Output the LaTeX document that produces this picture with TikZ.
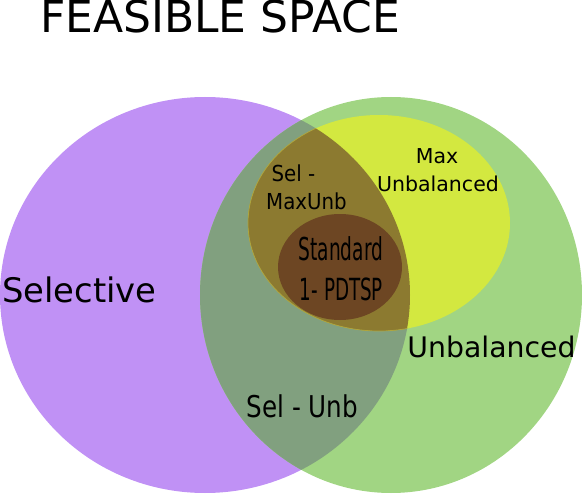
\documentclass[tikz,border=0pt]{standalone}
\usepackage{fontspec}
\setmainfont{DejaVu Sans}
\definecolor{cpurple}{RGB}{192,145,245}
\definecolor{cgreen}{RGB}{161,213,131}
\definecolor{cpg}{RGB}{129,160,127}
\definecolor{cyellow}{RGB}{211,232,64}
\definecolor{colive}{RGB}{140,122,48}
\definecolor{cbrown}{RGB}{109,70,35}
\definecolor{cedge}{RGB}{175,165,62}
\newcommand{\fs}[1]{\fontsize{#1}{#1}\selectfont}
\begin{document}
\begin{tikzpicture}[x=1pt,y=-1pt,
  lbl/.style={inner sep=0pt, outer sep=0pt, anchor=base, text=black}]
\useasboundingbox (0,0) rectangle (582,495);
% base shapes
\fill[cpurple] (205,295) ellipse [x radius=205, y radius=198];
\fill[cgreen] (391,295) ellipse [x radius=191, y radius=198];
\begin{scope}
  \clip (205,295) ellipse [x radius=205, y radius=198];
  \fill[cpg] (391,295) ellipse [x radius=191, y radius=198];
\end{scope}
\fill[cyellow] (379,223) ellipse [x radius=131, y radius=108];
\begin{scope}
  \clip (205,295) ellipse [x radius=205, y radius=198];
  \fill[colive] (379,223) ellipse [x radius=131, y radius=108];
  \draw[cedge, line width=0.7pt] (379,223) ellipse [x radius=131, y radius=108];
\end{scope}
\fill[cbrown] (340,267) ellipse [x radius=62, y radius=53];
% texts
\node[lbl, anchor=base west] (title) at (40,33) {\fs{44}FEASIBLE SPACE};
\node[lbl] (sel) at (79.5,302) {\fs{33.8}Selective};
\node[lbl] (unb) at (491.5,357) {\fs{28.3}Unbalanced};
\node[lbl] (selunb) at (302.5,417) {\scalebox{0.82}[1]{\fs{30}Sel - Unb}};
\node[lbl] (std1) at (341,260) {\scalebox{0.59}[1]{\fs{31.5}Standard}};
\node[lbl] (std2) at (341.5,300) {\scalebox{0.6}[1]{\fs{30.5}1- PDTSP}};
\node[lbl] (sm1) at (293.5,182) {\scalebox{0.9}[1]{\fs{22}Sel -}};
\node[lbl] (sm2) at (306.5,209) {\scalebox{0.9}[1]{\fs{22}MaxUnb}};
\node[lbl] (mx1) at (437,164) {\fs{20.5}Max};
\node[lbl] (mx2) at (438,192) {\fs{20.5}Unbalanced};
\end{tikzpicture}
\end{document}
